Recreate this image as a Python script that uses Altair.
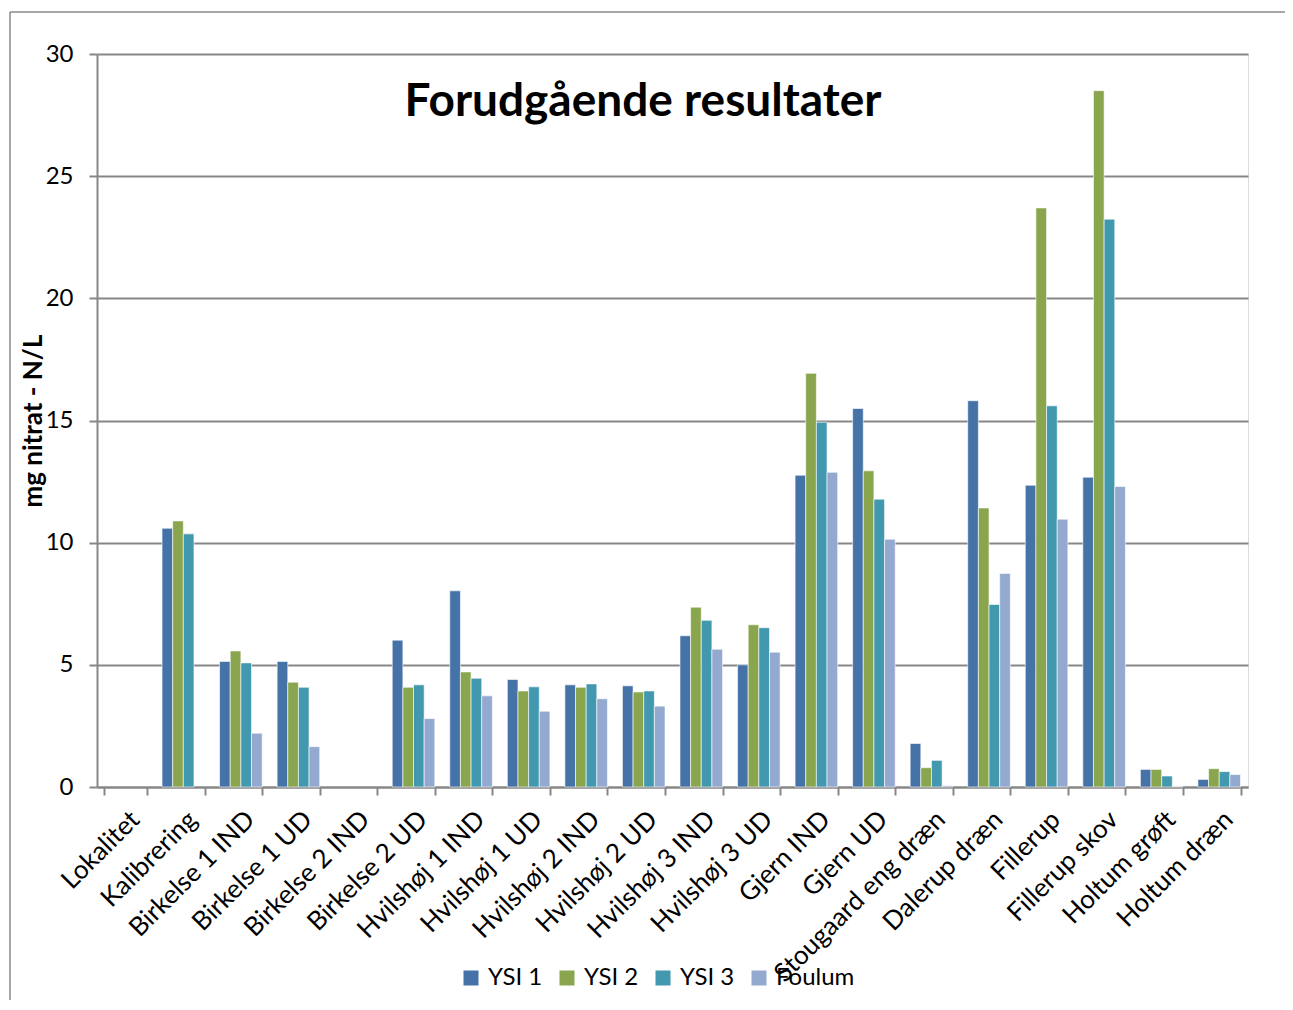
import altair as alt
import pandas as pd

categories = ["Lokalitet", "Kalibrering", "Birkelse 1 IND", "Birkelse 1 UD", "Birkelse 2 IND",
              "Birkelse 2 UD", "Hvilshøj 1 IND", "Hvilshøj 1 UD", "Hvilshøj 2 IND", "Hvilshøj 2 UD",
              "Hvilshøj 3 IND", "Hvilshøj 3 UD", "Gjern IND", "Gjern UD", "Stougaard eng dræn",
              "Dalerup dræn", "Fillerup", "Fillerup skov", "Holtum grøft", "Holtum dræn"]
series = ["YSI 1", "YSI 2", "YSI 3", "Foulum"]
colors = ["#4572A7", "#89A54E", "#4198AF", "#93A9CF"]

ysi1 = [None, 10.59, 5.14, 5.14, None, 6.01, 8.03, 4.40, 4.18, 4.14, 6.19, 5.00, 12.76, 15.49, 1.78, 15.81, 12.35, 12.68, 0.72, 0.31]
ysi2 = [None, 10.89, 5.57, 4.29, None, 4.08, 4.71, 3.93, 4.08, 3.89, 7.36, 6.64, 16.93, 12.94, 0.79, 11.42, 23.70, 28.50, 0.72, 0.75]
ysi3 = [None, 10.36, 5.08, 4.08, None, 4.18, 4.45, 4.10, 4.22, 3.93, 6.82, 6.52, 14.93, 11.78, 1.09, 7.47, 15.60, 23.24, 0.45, 0.63]
foulum = [None, None, 2.20, 1.65, None, 2.80, 3.73, 3.10, 3.61, 3.31, 5.64, 5.52, 12.88, 10.14, 0.05, 8.74, 10.96, 12.30, 0.02, 0.51]

y_ticks = [0, 5, 10, 15, 20, 25, 30]

rows = []
for name, vals in zip(series, [ysi1, ysi2, ysi3, foulum]):
    for cat, v in zip(categories, vals):
        if v is not None:
            rows.append({"Lokalitet": cat, "Serie": name, "Værdi": v})
df = pd.DataFrame(rows)

FONT = "Lato"
GRID = "#878787"

bars = alt.Chart(df).mark_bar(stroke="white", strokeWidth=0.6).encode(
    x=alt.X("Lokalitet:N", sort=categories,
            scale=alt.Scale(domain=categories, paddingInner=0.26, paddingOuter=0.13),
            axis=alt.Axis(title=None, labelAngle=-45, labelAlign="right", labelBaseline="top",
                          labelFontSize=26, labelFont=FONT, labelColor="#000000",
                          labelPadding=11, tickBand="extent", tickSize=8, tickColor=GRID,
                          tickWidth=2, domainColor=GRID, domainWidth=2, grid=False,
                          labelOverlap=False, labelLimit=400)),
    xOffset=alt.XOffset("Serie:N", sort=series, scale=alt.Scale(domain=series, paddingInner=0, paddingOuter=0)),
    y=alt.Y("Værdi:Q", scale=alt.Scale(domain=[0, 30], nice=False),
            axis=alt.Axis(title="mg nitrat - N/L", values=y_ticks, labelFontSize=24, labelFont=FONT,
                          labelColor="#000000", labelPadding=16, tickSize=8, tickColor=GRID,
                          tickWidth=2, domainColor=GRID, domainWidth=2, gridColor=GRID,
                          gridWidth=2, titleFont=FONT, titleFontSize=26, titleFontWeight="bold",
                          titleColor="#000000", titleX=-64, titleY=366.5, titleAngle=-90,
                          titleAlign="center", titleBaseline="middle")),
    color=alt.Color("Serie:N", sort=series, scale=alt.Scale(domain=series, range=colors),
                    legend=alt.Legend(title=None, orient="none", direction="horizontal",
                                      legendX=362, legendY=912, symbolType="square",
                                      symbolSize=225, symbolStrokeWidth=0, labelFontSize=24,
                                      labelFont=FONT, labelColor="#000000", labelOffset=5,
                                      columnPadding=12, columns=4)),
)

title = alt.Chart(pd.DataFrame({"t": ["Forudgående resultater"]})).mark_text(
    font=FONT, fontSize=46, fontWeight="bold", color="#000000", baseline="alphabetic", align="center"
).encode(x=alt.value(546), y=alt.value(62), text="t:N")

frame_left = alt.Chart(pd.DataFrame({"a": [0]})).mark_rule(color="#8a8a8a", strokeWidth=1.5).encode(
    x=alt.value(-87), y=alt.value(-42), y2=alt.value(980))
frame_top = alt.Chart(pd.DataFrame({"a": [0]})).mark_rule(color="#8a8a8a", strokeWidth=1.5).encode(
    x=alt.value(-87), x2=alt.value(1200), y=alt.value(-42))

chart = alt.layer(bars, title, frame_left, frame_top).properties(
    width=1151, height=733, autosize="none",
    padding={"left": 89, "top": 46, "right": 37, "bottom": 213},
).configure_view(stroke=None).configure(background="white")

chart.save("out.html", embed_options={"renderer": "svg", "actions": False})
